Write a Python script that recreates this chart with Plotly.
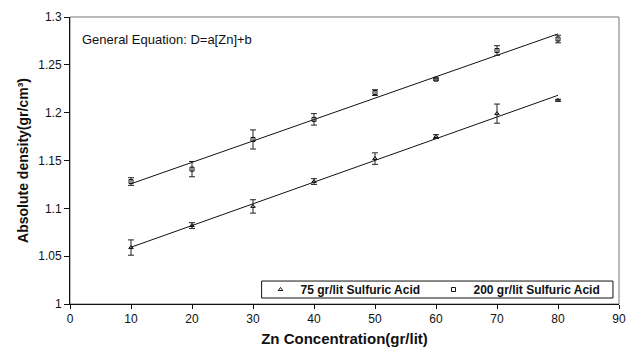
import numpy as np
import plotly.graph_objects as go

# Zn concentration (gr/lit)
zn = [10, 20, 30, 40, 50, 60, 70, 80]

# Absolute density for 75 gr/lit sulfuric acid
dens_75 = [1.059, 1.082, 1.102, 1.128, 1.152, 1.175, 1.199, 1.213]
err_75 = [0.008, 0.003, 0.007, 0.003, 0.006, 0.002, 0.010, 0.001]

# Absolute density for 200 gr/lit sulfuric acid
dens_200 = [1.128, 1.141, 1.172, 1.193, 1.221, 1.235, 1.265, 1.277]
err_200 = [0.004, 0.008, 0.010, 0.006, 0.003, 0.001, 0.005, 0.004]

series = [
    ("75 gr/lit Sulfuric Acid", dens_75, err_75, "triangle-up-open"),
    ("200 gr/lit Sulfuric Acid", dens_200, err_200, "square-open"),
]

FONT = "Liberation Sans, Arial, sans-serif"
INK = "#111111"
fig = go.Figure()

for name, dens, err, sym in series:
    # linear trend line D = a[Zn] + b
    a, b = np.polyfit(zn, dens, 1)
    xs = np.array([min(zn), max(zn)])
    fig.add_trace(go.Scatter(
        x=xs, y=a * xs + b, mode="lines",
        line=dict(color=INK, width=1), showlegend=False, hoverinfo="skip"))
    fig.add_trace(go.Scatter(
        x=zn, y=dens, mode="markers", name=name,
        marker=dict(symbol=sym, size=4, color=INK, line=dict(width=1, color=INK)),
        error_y=dict(type="data", array=err, visible=True, color="#222222", thickness=1, width=3)))

fig.add_annotation(
    x=0.018, y=0.923, xref="paper", yref="paper", xanchor="left", yanchor="middle",
    text="General Equation: D=a[Zn]+b", showarrow=False,
    font=dict(family=FONT, size=13, color=INK))

fig.update_layout(
    width=633, height=352,
    margin=dict(l=70, r=7, t=17, b=48),
    paper_bgcolor="white", plot_bgcolor="white",
    font=dict(family=FONT, size=12, color=INK),
    showlegend=True,
    legend=dict(
        orientation="h", x=0.347, y=0.0505, xanchor="left", yanchor="middle",
        bgcolor="rgba(0,0,0,0)", borderwidth=0,
        font=dict(family=FONT, size=12, color=INK, weight="bold"),
        itemwidth=30, tracegroupgap=0, entrywidth=128),
    xaxis=dict(
        range=[0, 90], dtick=10, tick0=0, showgrid=False, zeroline=False,
        showline=True, linecolor=INK, linewidth=1,
        ticks="outside", ticklen=4, tickcolor=INK,
        title=dict(text="Zn Concentration(gr/lit)", standoff=8,
                   font=dict(family=FONT, size=15, color=INK, weight="bold"))),
    yaxis=dict(
        range=[1, 1.3], dtick=0.05, tick0=1, showgrid=False, zeroline=False,
        showline=True, linecolor=INK, linewidth=1,
        ticks="outside", ticklen=5, tickcolor=INK,
        title=dict(text="Absolute density(gr/cm³)", standoff=6,
                   font=dict(family=FONT, size=14, color=INK, weight="bold"))),
    shapes=[
        # plot frame
        dict(type="rect", xref="paper", yref="paper", x0=0, y0=0, x1=1, y1=1,
             line=dict(color="#777777", width=1), layer="below"),
        # legend box
        dict(type="rect", xref="paper", yref="paper", x0=0.349, y0=0.0209, x1=0.989, y1=0.080,
             line=dict(color=INK, width=1), fillcolor="white", layer="below"),
    ],
)

fig.write_html("out.html")
